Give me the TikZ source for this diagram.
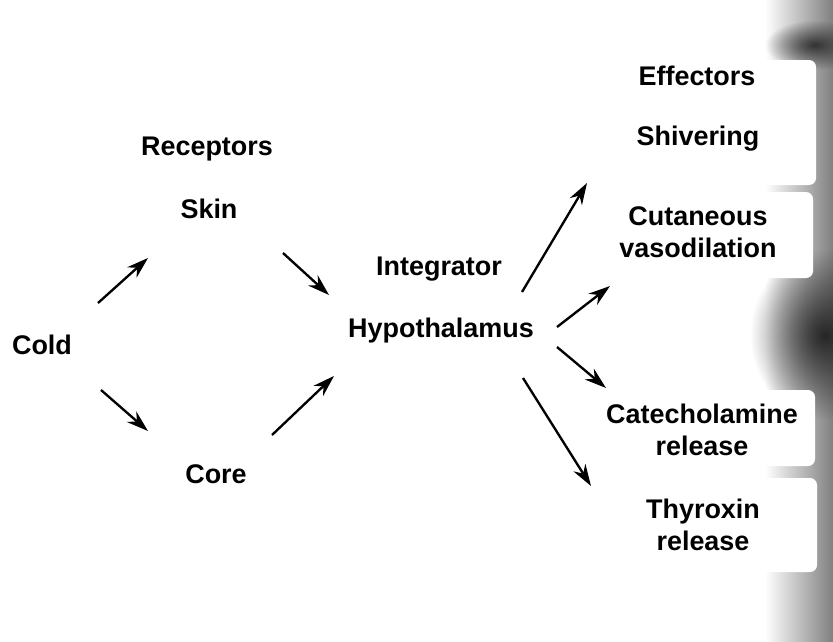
\documentclass[tikz,border=0pt]{standalone}
\usepackage{fontspec}
\setmainfont{Liberation Sans}
\usetikzlibrary{arrows.meta, positioning, fadings}

\tikzfading[name=blobfade, inner color=transparent!0, outer color=transparent!100]

\begin{document}
\begin{tikzpicture}[
        x=0.3mm, y=-0.3mm,
        lbl/.style={font=\fontsize{23}{27.5}\selectfont\bfseries, align=center, inner sep=1pt},
        arrow/.style={-{Stealth[length=6.5mm, width=4.2mm]}, line width=2pt}
    ]
        \useasboundingbox (0,0) rectangle (833,641);

        % Scanned page edge on the right
        \shade[left color=white, right color=black!50] (765,0) rectangle (833,641);
        \fill[black!85, path fading=blobfade] (825,335) ellipse (75 and 85);
        \fill[black!80, path fading=blobfade] (815,45) ellipse (50 and 25);
        \fill[white, rounded corners=6pt] (700,60) rectangle (816,185);
        \fill[white, rounded corners=6pt] (700,192) rectangle (813,278);
        \fill[white, rounded corners=6pt] (700,390) rectangle (815,466);
        \fill[white, rounded corners=6pt] (700,478) rectangle (817,572);

        % Column headings
        \node[lbl] (receptors) at (207,149) {Receptors};
        \node[lbl] (integrator) at (439,269) {Integrator};
        \node[lbl] (effectors) at (697,76) {Effectors};

        % Stimulus and receptors
        \node[lbl] (cold) at (42,345) {Cold};
        \node[lbl] (skin) at (209,209) {Skin};
        \node[lbl] (core) at (216,474) {Core};

        % Integrator
        \node[lbl] (hypo) at (441,331) {Hypothalamus};

        % Effectors
        \node[lbl] (shiv) at (698,139) {Shivering};
        \node[lbl] (cut) at (698,232) {Cutaneous\\vasodilation};
        \node[lbl] (cat) at (702,430) {Catecholamine\\release};
        \node[lbl] (thy) at (703,525) {Thyroxin\\release};

        % Arrows: stimulus to receptors
        \draw[arrow] ([shift={(56,-42)}]cold.center) -- ([shift={(-61,49)}]skin.center);
        \draw[arrow] ([shift={(59,45)}]cold.center) -- ([shift={(-68,-43)}]core.center);

        % Arrows: receptors to integrator
        \draw[arrow] ([shift={(74,44)}]skin.center) -- ([shift={(-112,-36)}]hypo.center);
        \draw[arrow] ([shift={(56,-39)}]core.center) -- ([shift={(-107,45)}]hypo.center);

        % Arrows: integrator to effectors
        \draw[arrow] ([shift={(81,-39)}]hypo.center) -- ([shift={(-111,44)}]shiv.center);
        \draw[arrow] ([shift={(116,-4)}]hypo.center) -- ([shift={(-88,54)}]cut.center);
        \draw[arrow] ([shift={(116,16)}]hypo.center) -- ([shift={(-96,-42)}]cat.center);
        \draw[arrow] ([shift={(82,47)}]hypo.center) -- ([shift={(-112,-39)}]thy.center);
    \end{tikzpicture}
\end{document}
